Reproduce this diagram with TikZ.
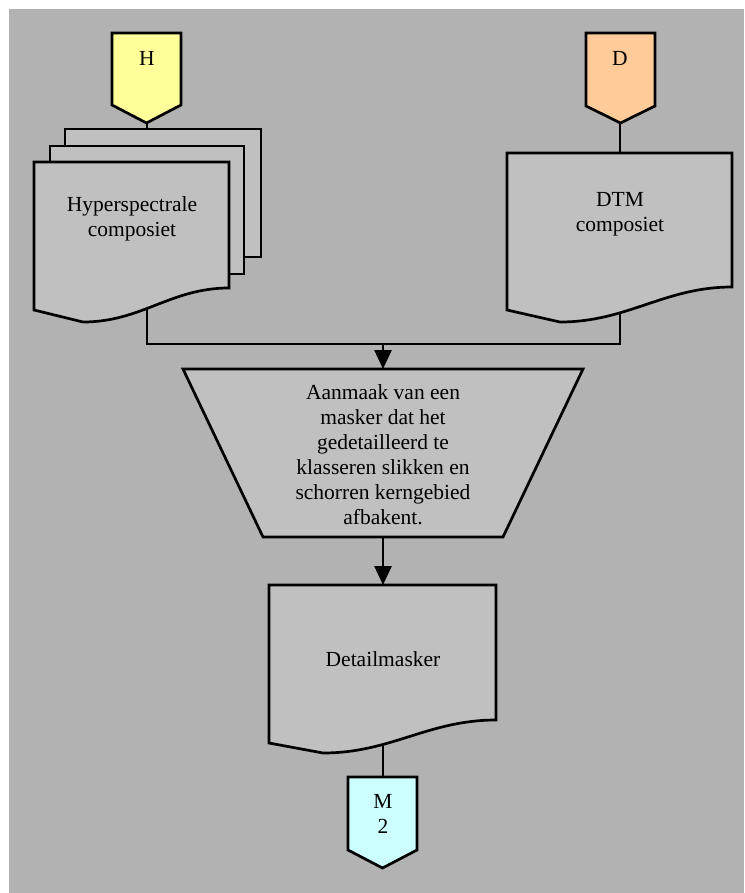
\documentclass[tikz,border=0pt]{standalone}
\usepackage{fontspec}
\setmainfont{Liberation Serif}
\usetikzlibrary{arrows.meta}

\definecolor{canvas}{HTML}{B2B2B2}
\definecolor{shapefill}{HTML}{C0C0C0}
\definecolor{tagyellow}{HTML}{FFFF99}
\definecolor{tagorange}{HTML}{FFCC99}
\definecolor{tagcyan}{HTML}{CCFFFF}

% document symbol: left, top, right, right-bottom y, left-bottom y, wave-low x, wave-low y
\newcommand\docsymbol[7]{%
  \path[shapebox] (#1,#2) -- (#3,#2) -- (#3,#4)
    .. controls ({#3-0.3*(#3-#1)},#4) and ({#6+0.3*(#3-#1)},#7) .. (#6,#7)
    -- (#1,#5) -- cycle;}
% off-page tag: left, right, top, shoulder y, tip y, fill
\newcommand\offpagetag[6]{%
  \path[shapebox,fill=#6] (#1,#3) -- (#2,#3) -- (#2,#4) -- ({(#1+#2)/2},#5)
    -- (#1,#4) -- cycle;}

\begin{document}
\begin{tikzpicture}[x=1pt,y=-1pt,
  shapebox/.style={draw=black,fill=shapefill,line width=2.7pt,line join=miter},
  wire/.style={draw=black,line width=2.7pt},
  flowarrow/.style={wire,-{Triangle[length=19pt,width=17pt]}},
  label/.style={inner sep=0pt,align=center,font=\fontsize{21.5}{25}\selectfont}]

\useasboundingbox (0,0) rectangle (744,893);
\fill[white] (0,0) rectangle (744,893);
\fill[canvas] (9,9) rectangle (744,893);

% anchor points of the flow
\coordinate (Htip) at (147,123);
\coordinate (Hstack) at (147,129);
\coordinate (Hdoc) at (147,300);
\coordinate (Dtip) at (620,123);
\coordinate (Ddoc) at (620,153);
\coordinate (Dout) at (620,300);
\coordinate (Hcorner) at (147,344);
\coordinate (Dcorner) at (620,344);
\coordinate (join) at (383,344);
\coordinate (trapTop) at (383,369);
\coordinate (trapBot) at (383,537);
\coordinate (maskTop) at (383,585);
\coordinate (maskOut) at (383,735);
\coordinate (Mtop) at (383,777);

% connectors (behind the symbols)
\draw[wire] (Htip) -- (Hstack);
\draw[wire] (Dtip) -- (Ddoc);
\draw[wire] (Hdoc) -- (Hcorner) -- (Dcorner) -- (Dout);
\draw[flowarrow] (join) -- (trapTop);
\draw[flowarrow] (trapBot) -- (maskTop);
\draw[wire] (maskOut) -- (Mtop);

% input tags
\offpagetag{112}{181}{33}{105}{123}{tagyellow}
\offpagetag{586}{655}{33}{106}{123}{tagorange}
\node[label] (H) at (147,58) {H};
\node[label] (D) at (620,58) {D};

% stacked hyperspectral documents
\path[shapebox] (65,129) rectangle (261,257);
\path[shapebox] (50,146) rectangle (244,274);
\docsymbol{34}{162}{229}{288}{310}{83}{322}
\node[label] (hyper) at (132,219) {Hyperspectrale\\composiet};

% DTM document
\docsymbol{507}{153}{732}{287}{310}{560}{322}
\node[label] (dtm) at (620,214) {DTM\\composiet};

% manual operation (trapezoid)
\path[shapebox] (183,369) -- (583,369) -- (503,537) -- (263,537) -- cycle;
\node[label] (make) at (383,455) {Aanmaak van een\\masker dat het\\gedetailleerd te\\klasseren slikken en\\schorren kerngebied\\afbakent.};

% output document
\docsymbol{269}{585}{496}{720}{743}{323}{753}
\node[label] (mask) at (383,659) {Detailmasker};

% output tag
\offpagetag{348}{417}{777}{850}{868}{tagcyan}
\node[label] (M2) at (383,814) {M\\2};
\end{tikzpicture}
\end{document}
